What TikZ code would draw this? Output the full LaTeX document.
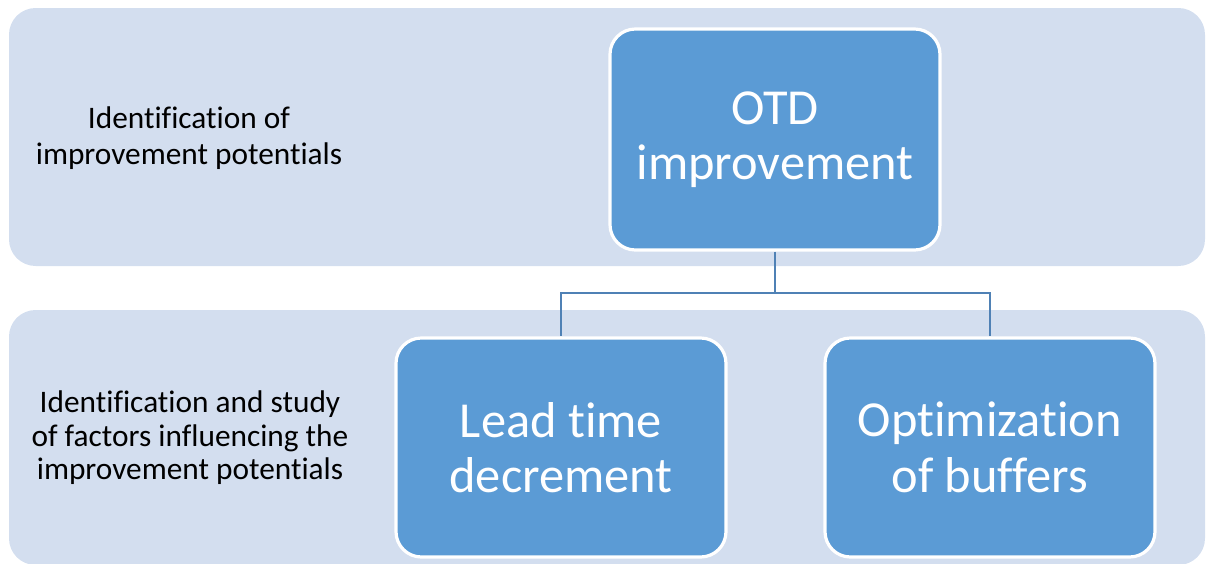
\documentclass[tikz,border=0pt]{standalone}
\usepackage{fontspec}
\setmainfont[Ligatures=NoCommon]{Carlito}
\definecolor{bandc}{HTML}{D3DEEF}
\definecolor{boxc}{HTML}{5B9BD5}
\definecolor{connc}{HTML}{4F81B5}
\begin{document}
\begin{tikzpicture}[x=0.75pt,y=-0.75pt,
  bandbox/.style={rectangle, rounded corners=20pt, fill=bandc, draw=none, inner sep=0pt},
  mainbox/.style={rectangle, rounded corners=19pt, fill=boxc, draw=white, line width=2.4pt,
    minimum width=247.5pt, text=white, align=center, inner sep=0pt,
    font=\fontsize{37.8}{41.5}\selectfont},
  sidetext/.style={align=center, font=\fontsize{23.5}{25.2}\selectfont, text=black},
  conn/.style={draw=connc, line width=2pt}]
\useasboundingbox (0,0) rectangle (1208,564);
\begin{scope}
\clip (0,0) rectangle (1208,564);
\node[bandbox, minimum width=897pt, minimum height=193.5pt] (topband) at (607,137) {};
\node[bandbox, minimum width=897pt, minimum height=191.25pt] (botband) at (607,437.5) {};
\end{scope}
\node[sidetext, font=\fontsize{23.5}{27}\selectfont] (t1) at (189,138.5) {Identification of\\improvement potentials};
\node[sidetext] (t2) at (190,438) {Identification and study\\of factors influencing the\\improvement potentials};
\node[mainbox, minimum height=165.75pt] (otd) at (775,139.5) {OTD\\improvement};
\node[mainbox, minimum height=164.25pt] (lead) at (561,447.5) {Lead time\\decrement};
\node[mainbox, minimum height=164.25pt] (opt) at (990,447.5) {Optimization\\of buffers};
\coordinate (junc) at (775,293);
\draw[conn] (otd.south) -- (junc);
\draw[conn] (junc) -| (lead.north);
\draw[conn] (junc) -| (opt.north);
\end{tikzpicture}
\end{document}
